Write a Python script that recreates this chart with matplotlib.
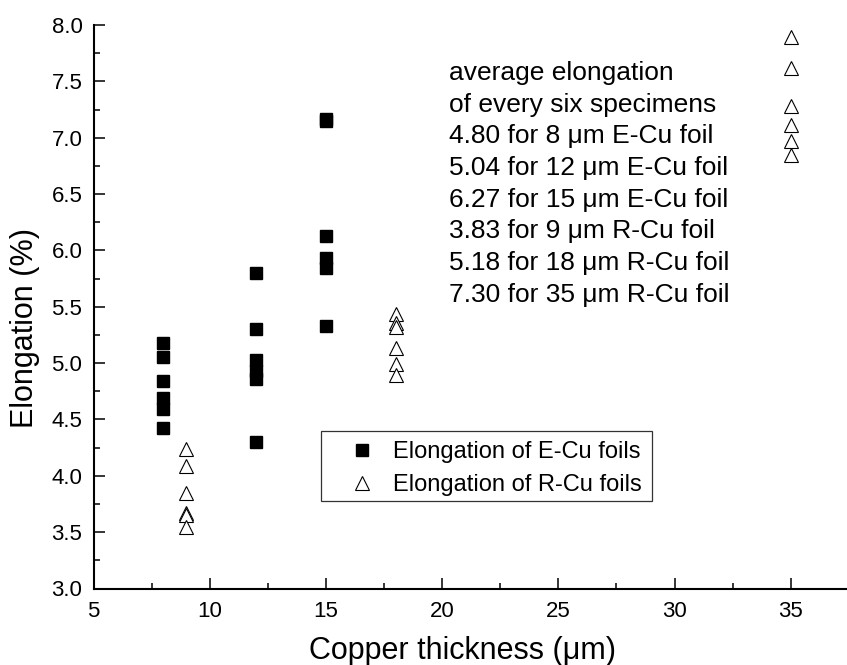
"""Elongation of E-Cu and R-Cu foils vs copper thickness."""

import matplotlib
matplotlib.use("Agg")
import matplotlib.pyplot as plt
from matplotlib.patches import Rectangle
from matplotlib.ticker import MultipleLocator

# Datos
ecu_thickness = [8, 8, 8, 8, 8, 8,
                 12, 12, 12, 12, 12, 12,
                 15, 15, 15, 15, 15, 15]
ecu_elongation = [5.18, 5.05, 4.84, 4.69, 4.59, 4.42,
                  5.80, 5.30, 5.03, 4.93, 4.86, 4.30,
                  7.17, 7.15, 6.13, 5.93, 5.84, 5.33]

rcu_thickness = [9, 9, 9, 9, 9, 9,
                 18, 18, 18, 18, 18, 18,
                 35, 35, 35, 35, 35, 35]
rcu_elongation = [4.24, 4.09, 3.85, 3.67, 3.65, 3.55,
                  5.44, 5.36, 5.32, 5.13, 4.99, 4.89,
                  7.89, 7.62, 7.28, 7.11, 6.97, 6.85]

series_labels = ["Elongation of E-Cu foils", "Elongation of R-Cu foils"]

note_lines = [
    "average elongation",
    "of every six specimens",
    "4.80 for 8 \u03bcm E-Cu foil",
    "5.04 for 12 \u03bcm E-Cu foil",
    "6.27 for 15 \u03bcm E-Cu foil",
    "3.83 for 9 \u03bcm R-Cu foil",
    "5.18 for 18 \u03bcm R-Cu foil",
    "7.30 for 35 \u03bcm R-Cu foil",
]

x_label = "Copper thickness (\u03bcm)"
y_label = "Elongation (%)"

plt.rcParams["font.family"] = ["Liberation Sans", "DejaVu Sans"]

W, H = 847, 665
fig = plt.figure(figsize=(W / 100, H / 100), dpi=100)
fig.patch.set_facecolor("white")

# eje en pixeles: izquierda 93.5, derecha 848.8, arriba 25, abajo 588.5
AX_L, AX_R, AX_T, AX_B = 93.5, 848.8, 25, 588.5
ax = fig.add_axes([AX_L / W, 1 - AX_B / H, (AX_R - AX_L) / W, (AX_B - AX_T) / H])

ax.plot(ecu_thickness, ecu_elongation, linestyle="none", marker="s",
        markersize=8, color="black", label=series_labels[0])
ax.plot(rcu_thickness, rcu_elongation, linestyle="none", marker="^",
        markersize=9.5, markerfacecolor="white", markeredgecolor="black",
        markeredgewidth=0.8, label=series_labels[1])

ax.set_xlim(5, 37.5)
ax.set_ylim(3.0, 8.0)
ax.xaxis.set_major_locator(MultipleLocator(5))
ax.xaxis.set_minor_locator(MultipleLocator(2.5))
ax.yaxis.set_major_locator(MultipleLocator(0.5))
ax.yaxis.set_minor_locator(MultipleLocator(0.25))
ax.yaxis.set_major_formatter(matplotlib.ticker.FormatStrFormatter("%.1f"))

for side in ("top", "right"):
    ax.spines[side].set_visible(False)
for side in ("left", "bottom"):
    ax.spines[side].set_linewidth(1.5)

ax.tick_params(which="major", direction="in", length=8, width=1.1,
               labelsize=16, pad=8)
ax.tick_params(which="minor", direction="in", length=4.3, width=1.1)
ax.tick_params(axis="x", which="major", pad=9)

ax.set_xlabel(x_label, fontsize=22)
ax.xaxis.set_label_coords((462 - AX_L) / (AX_R - AX_L),
                          -(636 - AX_B) / (AX_B - AX_T))
ax.set_ylabel(y_label, fontsize=22)
ax.yaxis.set_label_coords((40 - AX_L) / (AX_R - AX_L),
                          (AX_B - 328) / (AX_B - AX_T))

# texto de promedios
for i, line in enumerate(note_lines):
    y_px = 80 + i * 31.7
    fig.text(449 / W, 1 - y_px / H, line, fontsize=19, ha="left",
             va="baseline")

# leyenda sin marco + recuadro propio
leg = ax.legend(loc="upper left", bbox_to_anchor=(338 / W, 1 - 441 / H),
                bbox_transform=fig.transFigure, frameon=False, fontsize=17,
                borderpad=0, borderaxespad=0, handlelength=2.0,
                handletextpad=0.33, labelspacing=0.48, numpoints=1)
fig.patches.append(Rectangle((320.7 / W, 1 - 501 / H), 331.6 / W, 70 / H,
                             transform=fig.transFigure, fill=False,
                             edgecolor="#333333", linewidth=0.9))

fig.savefig("out.png", dpi=100, facecolor="white")
